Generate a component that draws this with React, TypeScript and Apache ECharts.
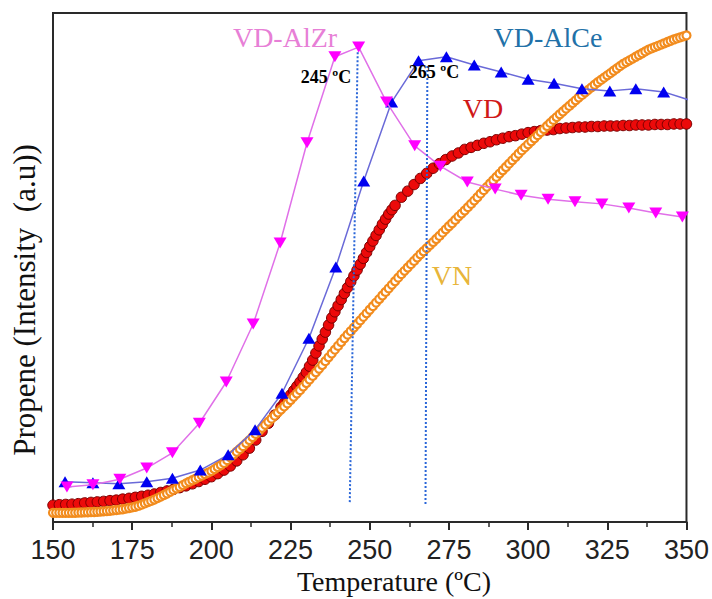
import React, { useEffect, useRef } from "react";
import * as echarts from "echarts";

// VD (red circles)
const vdTemps = [150,152,154,156,158,160,162,164,166,168,170,172,174,176,178,180,182,184,186,188,190,192,194,196,198,200,202,204,206,208,210,212,214,216,218,220,
  222,223,224,225,226,227,228,229,230,231,232,233,234,235,236,237,238,239,240,241,242,243,244,245,246,247,248,249,250,251,252,253,254,255,256,257,258,
  260,262,264,266,268,270,272,274,276,278,280,282,284,286,288,290,292,294,296,298,300,302,304,306,308,310,312,314,316,318,320,322,324,326,328,330,332,334,336,338,340,342,344,346,348,350];
const vdValues = [3.3,3.4,3.45,3.5,3.6,3.75,3.85,3.95,4.05,4.2,4.3,4.5,4.65,4.85,5.05,5.25,5.5,5.8,6.1,6.4,6.75,7.1,7.5,7.95,8.4,8.9,9.5,10.2,11.0,12.0,13.2,14.5,16.1,17.8,19.4,21.0,
  22.6,23.35,24.1,24.95,25.8,26.65,27.5,28.45,29.4,30.6,31.8,33.2,34.6,35.95,37.3,38.7,40.1,41.3,42.5,43.7,44.9,46.05,47.2,48.35,49.5,50.65,51.8,52.95,54.1,55.2,56.3,57.4,58.5,59.5,60.5,61.35,62.2,
  63.8,65.0,66.3,67.5,68.5,69.5,70.4,71.2,71.9,72.5,73.2,73.6,74.0,74.4,74.7,75.1,75.4,75.7,75.9,76.2,76.5,76.7,76.9,77.0,77.1,77.3,77.4,77.5,77.6,77.6,77.7,77.7,77.8,77.8,77.8,77.9,77.9,78.0,78.0,78.0,78.1,78.1,78.1,78.2,78.2,78.2];

// VN (orange open circles)
const vnTemps = [150,151,152,153,154,155,156,157,158,159,160,161,162,163,164,165,166,167,168,169,170,171,172,173,174,175,176,177,178,179,180,181,182,183,184,185,186,187,188,189,190,191,192,193,194,195,196,197,198,199,
  200,201,202,203,204,205,206,207,208,209,210,211,212,213,214,215,216,217,218,219,220,221,222,223,224,225,226,227,228,229,230,231,232,233,234,235,236,237,238,239,240,241,242,243,244,245,246,247,248,249,
  250,251,252,253,254,255,256,257,258,259,260,261,262,263,264,265,266,267,268,269,270,271,272,273,274,275,276,277,278,279,280,281,282,283,284,285,286,287,288,289,290,291,292,293,294,295,296,297,298,299,
  300,301,302,303,304,305,306,307,308,309,310,311,312,313,314,315,316,317,318,319,320,321,322,323,324,325,326,327,328,329,330,331,332,333,334,335,336,337,338,339,340,341,342,343,344,345,346,347,348,349,350];
const vnValues = [1.8,1.8,1.8,1.8,1.8,1.8,1.8,1.82,1.85,1.87,1.9,1.92,1.95,1.97,2.0,2.05,2.1,2.15,2.2,2.27,2.35,2.42,2.5,2.62,2.75,2.87,3.0,3.2,3.4,3.65,3.9,4.15,4.4,4.7,5.0,5.3,5.6,5.95,6.3,6.6,6.9,7.25,7.6,7.9,8.2,8.5,8.8,9.1,9.4,9.7,
  10.0,10.4,10.8,11.2,11.6,12.15,12.7,13.25,13.8,14.35,14.9,15.5,16.1,16.7,17.3,17.9,18.5,19.1,19.7,20.3,20.9,21.5,22.1,22.7,23.3,23.95,24.6,25.25,25.9,26.6,27.3,28.0,28.7,29.4,30.1,30.85,31.6,32.35,33.1,33.85,34.6,35.35,36.1,36.8,37.5,38.2,38.9,39.6,40.3,41.0,
  41.7,42.4,43.1,43.8,44.5,45.2,45.9,46.6,47.3,48.0,48.7,49.35,50.0,50.65,51.3,51.95,52.6,53.2,53.8,54.4,55.0,55.6,56.2,56.85,57.5,58.1,58.7,59.35,60.0,60.6,61.2,61.85,62.5,63.15,63.8,64.5,65.2,65.85,66.5,67.15,67.8,68.45,69.1,69.75,70.4,71.05,71.7,72.35,73.0,73.6,
  74.2,74.8,75.4,76.0,76.6,77.2,77.8,78.4,79.0,79.55,80.1,80.65,81.2,81.75,82.3,82.85,83.4,83.9,84.4,84.9,85.4,85.9,86.4,86.85,87.3,87.75,88.2,88.65,89.1,89.55,90.0,90.35,90.7,91.05,91.4,91.75,92.1,92.45,92.8,93.05,93.3,93.55,93.8,94.05,94.3,94.55,94.8,95.0,95.2,95.4,95.6];

// VD-AlZr (magenta down triangles)
const alZrTemps = [154.4,162.6,171.1,179.6,187.7,196.2,204.7,213.2,221.7,230.2,239.0,246.5,255.3,264.2,272.3,280.8,289.6,297.8,306.3,314.8,323.3,331.8,340.3,348.7];
const alZrValues = [6.9,7.3,8.4,10.6,13.6,19.4,27.5,38.9,54.8,74.5,91.4,93.3,82.5,73.9,69.9,66.8,65.4,64.2,63.4,62.9,62.5,61.7,60.7,59.9];

// VD-AlCe (blue up triangles)
const alCeTemps = [153.8,162.6,170.8,179.6,187.7,196.5,205.3,213.8,222.3,230.8,239.3,248.1,256.9,265.4,274.2,283.0,291.5,300.0,308.2,317.0,325.8,334.0,342.8,350.9];
const alCeValues = [7.9,7.7,7.5,7.9,8.6,10.2,13.2,18.1,25.3,36.1,50.1,67.0,82.5,90.6,91.4,89.8,88.4,87.0,86.2,85.1,84.7,85.1,84.5,82.9];

// dotted guide lines at the peak temperatures
const peakLineAlZr = [[246.2, 92.3], [243.7, 3.9]];
const peakLineAlCe = [[268.2, 89.6], [267.6, 3.3]];

const xTicks = { min: 150, max: 350, interval: 25 };
const yRange = { min: 0, max: 100 };

const zip = (xs: number[], ys: number[]) => xs.map((x, i) => [x, ys[i]]);

const SERIF = '"Liberation Serif", "Times New Roman", serif';

export default function App() {
  const ref = useRef<HTMLDivElement>(null);
  useEffect(() => {
    if (!ref.current) return;
    const chart = echarts.init(ref.current, null, { renderer: "svg" });
    const txt = (text: string, x: number, y: number, size: number, fill: string, extra: any = {}) => {
      const { bold, ...rest } = extra;
      return {
        type: "text",
        x,
        y,
        z: 100,
        ...rest,
        style: {
          text,
          font: `${bold ? "bold " : ""}${size}px ${SERIF}`,
          fill,
          align: "center",
          verticalAlign: "middle",
          textAlign: "center",
          textVerticalAlign: "middle",
        },
      };
    };
    chart.setOption({
      animation: false,
      backgroundColor: "#ffffff",
      grid: {
        left: 53,
        right: 23,
        top: 13,
        bottom: 77,
        show: true,
        borderColor: "#2a2a2a",
        borderWidth: 2,
        backgroundColor: "transparent",
      },
      xAxis: {
        type: "value",
        min: xTicks.min,
        max: xTicks.max,
        interval: xTicks.interval,
        axisLine: { show: true, onZero: false, lineStyle: { color: "#2a2a2a", width: 2 } },
        axisTick: { show: true, inside: false, length: 8, lineStyle: { color: "#2a2a2a", width: 2 } },
        minorTick: { show: true, splitNumber: 2, length: 5, lineStyle: { color: "#2a2a2a", width: 1.5 } },
        splitLine: { show: false },
        axisLabel: {
          fontFamily: '"Liberation Sans Narrow", "Arial Narrow", "Liberation Sans", Arial, sans-serif',
          fontSize: 27,
          color: "#222",
          margin: 14,
        },
      },
      yAxis: {
        type: "value",
        min: yRange.min,
        max: yRange.max,
        axisLine: { show: true, lineStyle: { color: "#2a2a2a", width: 2 } },
        axisTick: { show: false },
        axisLabel: { show: false },
        splitLine: { show: false },
      },
      series: [
        {
          name: "VD",
          type: "line",
          data: zip(vdTemps, vdValues),
          symbol: "circle",
          symbolSize: 10.5,
          showAllSymbol: true,
          itemStyle: { color: "#ec0a0a", borderColor: "#7a0000", borderWidth: 1 },
          lineStyle: { color: "#8b0000", width: 1 },
          z: 2,
        },
        {
          name: "VN",
          type: "line",
          data: zip(vnTemps, vnValues),
          symbol: "circle",
          symbolSize: 8,
          showAllSymbol: true,
          itemStyle: { color: "#ffffff", borderColor: "#f28c1e", borderWidth: 2.2 },
          lineStyle: { color: "#f28c1e", width: 1 },
          z: 3,
        },
        {
          name: "VD-AlCe",
          type: "line",
          data: zip(alCeTemps, alCeValues),
          symbol: "triangle",
          symbolSize: [13, 11],
          itemStyle: { color: "#0000f0" },
          lineStyle: { color: "#6a6ad8", width: 1.5 },
          z: 4,
        },
        {
          name: "VD-AlZr",
          type: "line",
          data: zip(alZrTemps, alZrValues),
          symbol: "triangle",
          symbolRotate: 180,
          symbolSize: [13, 11],
          itemStyle: { color: "#ff00ff" },
          lineStyle: { color: "#e070e8", width: 1.5 },
          z: 5,
        },
        {
          name: "peak AlZr",
          type: "line",
          data: peakLineAlZr,
          symbol: "none",
          lineStyle: { color: "#2a66d8", width: 2, type: "dotted" },
          z: 6,
        },
        {
          name: "peak AlCe",
          type: "line",
          data: peakLineAlCe,
          symbol: "none",
          lineStyle: { color: "#2a66d8", width: 2, type: "dotted" },
          z: 6,
        },
      ],
      graphic: [
        txt("VD-AlZr", 285, 37, 28, "#e77fd6"),
        txt("VD-AlCe", 548, 37, 28, "#2271a8"),
        txt("VD", 483, 108, 28, "#d01818"),
        txt("VN", 452, 275, 28, "#e8b53a"),
        txt("245 ºC", 326, 77, 18, "#000", { bold: true }),
        txt("265 ºC", 434, 72, 18, "#000", { bold: true }),
        txt("Temperature (ºC)", 394, 581, 28, "#111"),
        txt("Propene (Intensity  (a.u))", 24, 300, 31, "#111", { rotation: Math.PI / 2 }),
      ],
    });
    return () => chart.dispose();
  }, []);
  return (
    <div
      ref={ref}
      style={{ position: "fixed", left: 0, top: 0, width: 712, height: 599, background: "#fff" }}
    />
  );
}
